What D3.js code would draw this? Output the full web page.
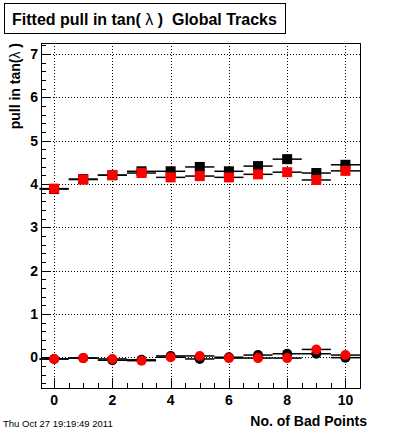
<!DOCTYPE html>
<html><head><meta charset="utf-8">
<script src="https://d3js.org/d3.v7.min.js"></script>
<style>body{margin:0;background:#fff;}svg{display:block;}text{white-space:pre;}</style>
</head><body>
<script>
// Data
const badPoints = [0,1,2,3,4,5,6,7,8,9,10];
const upperBlack = [3.88,4.11,4.20,4.29,4.29,4.39,4.29,4.41,4.57,4.25,4.44];
const upperRed   = [3.89,4.10,4.20,4.25,4.15,4.18,4.15,4.22,4.27,4.09,4.30];
const lowerBlack = [-0.04,-0.02,-0.07,-0.06,0.03,-0.04,0.00,0.05,0.08,0.08,-0.01];
const lowerRed   = [-0.04,-0.02,-0.04,-0.08,0.00,0.03,-0.02,-0.02,-0.02,0.18,0.05];
const xTicks = [0,2,4,6,8,10];
const yTicks = [0,1,2,3,4,5,6,7];
const titleParts = ["Fitted pull in tan( ", "\u03bb", " )  Global Tracks"];
const yTitleParts = ["pull in tan(", "\u03bb", " )"];
const xTitle = "No. of Bad Points";
const dateText = "Thu Oct 27 19:19:49 2011";

const W = 400, H = 433;
const L = 41, R = 360, T = 43, B = 388;
const svg = d3.select("body").append("svg").attr("width", W).attr("height", H);
const font = "'Liberation Sans', Arial, Helvetica, sans-serif";

const x = d3.scaleLinear().domain([-0.45, 10.5]).range([L, R]);
const y = d3.scaleLinear().domain([-0.71, 7.25]).range([B, T]);

// grid
const g = svg.append("g");
g.selectAll(".gx").data(xTicks).enter().append("line")
  .attr("x1", d => Math.round(x(d)) + 0.5).attr("x2", d => Math.round(x(d)) + 0.5)
  .attr("y1", T).attr("y2", B)
  .attr("stroke", "#000").attr("stroke-width", 1).attr("stroke-dasharray", "1,2");
g.selectAll(".gy").data(yTicks).enter().append("line")
  .attr("y1", d => Math.round(y(d)) + 0.5).attr("y2", d => Math.round(y(d)) + 0.5)
  .attr("x1", L).attr("x2", R)
  .attr("stroke", "#000").attr("stroke-width", 1).attr("stroke-dasharray", "1,2");

// axes ticks
const yMinor = d3.range(-0.6, 7.25, 0.2).filter(v => Math.abs(v - Math.round(v)) > 0.01);
g.selectAll(".ymn").data(yMinor).enter().append("line")
  .attr("x1", L).attr("x2", L + 5)
  .attr("y1", d => Math.round(y(d)) + 0.5).attr("y2", d => Math.round(y(d)) + 0.5)
  .attr("stroke", "#000");
g.selectAll(".ymj").data(yTicks).enter().append("line")
  .attr("x1", L).attr("x2", L + 10)
  .attr("y1", d => Math.round(y(d)) + 0.5).attr("y2", d => Math.round(y(d)) + 0.5)
  .attr("stroke", "#000");
const xMinor = d3.range(0.5, 10.5, 0.5).filter(v => v % 2 !== 0);
g.selectAll(".xmn").data(xMinor).enter().append("line")
  .attr("x1", d => Math.round(x(d)) + 0.5).attr("x2", d => Math.round(x(d)) + 0.5)
  .attr("y1", B).attr("y2", B - 5).attr("stroke", "#000");
g.selectAll(".xmj").data(xTicks).enter().append("line")
  .attr("x1", d => Math.round(x(d)) + 0.5).attr("x2", d => Math.round(x(d)) + 0.5)
  .attr("y1", B).attr("y2", B - 10).attr("stroke", "#000");

// tick labels
g.selectAll(".yl").data(yTicks).enter().append("text")
  .attr("x", L - 3).attr("y", d => y(d) + 5)
  .attr("text-anchor", "end").attr("font-family", font).attr("font-weight", "bold")
  .attr("font-size", 14).text(d => d);
g.selectAll(".xl").data(xTicks).enter().append("text")
  .attr("x", d => x(d)).attr("y", B + 17)
  .attr("text-anchor", "middle").attr("font-family", font).attr("font-weight", "bold")
  .attr("font-size", 14).text(d => d);

// frame
svg.append("rect").attr("x", L + 0.5).attr("y", T + 0.5).attr("width", R - L).attr("height", B - T)
  .attr("fill", "none").attr("stroke", "#000").attr("stroke-width", 1);

// data series
function series(vals, color, shape) {
  const sg = svg.append("g");
  sg.selectAll("line").data(vals).enter().append("line")
    .attr("x1", (d, i) => x(badPoints[i] - 0.5)).attr("x2", (d, i) => Math.min(x(badPoints[i] + 0.5), R))
    .attr("y1", d => y(d)).attr("y2", d => y(d))
    .attr("stroke", "#000").attr("stroke-width", 1.5);
  if (shape === "square") {
    sg.selectAll("rect").data(vals).enter().append("rect")
      .attr("x", (d, i) => x(badPoints[i]) - 5).attr("y", d => y(d) - 5)
      .attr("width", 10).attr("height", 10).attr("fill", color);
  } else {
    sg.selectAll("circle").data(vals).enter().append("circle")
      .attr("cx", (d, i) => x(badPoints[i])).attr("cy", d => y(d))
      .attr("r", 5).attr("fill", color);
  }
}
series(upperBlack, "#000", "square");
series(upperRed, "#ff0000", "square");
series(lowerBlack, "#000", "circle");
series(lowerRed, "#ff0000", "circle");

// title box
svg.append("rect").attr("x", 4.5).attr("y", 3.5).attr("width", 281).attr("height", 30)
  .attr("fill", "#fff").attr("stroke", "#000").attr("stroke-width", 1);
const tt = svg.append("text").attr("x", 12).attr("y", 25).attr("font-family", font)
  .attr("font-weight", "bold").attr("font-size", 16);
titleParts.forEach((p, i) => tt.append("tspan").attr("font-weight", i === 1 ? "normal" : "bold").text(p));

// axis titles
const yt = svg.append("text").attr("transform", `translate(20,${T}) rotate(-90)`)
  .attr("text-anchor", "end").attr("font-family", font).attr("font-weight", "bold")
  .attr("font-size", 14);
yTitleParts.forEach((p, i) => yt.append("tspan").attr("font-weight", i === 1 ? "normal" : "bold").text(p));
svg.append("text").attr("x", 367).attr("y", 426).attr("text-anchor", "end")
  .attr("font-family", font).attr("font-weight", "bold").attr("font-size", 14).text(xTitle);
svg.append("text").attr("x", 3).attr("y", 427).attr("font-family", font)
  .attr("font-size", 9.5).text(dateText);
</script>
</body></html>
